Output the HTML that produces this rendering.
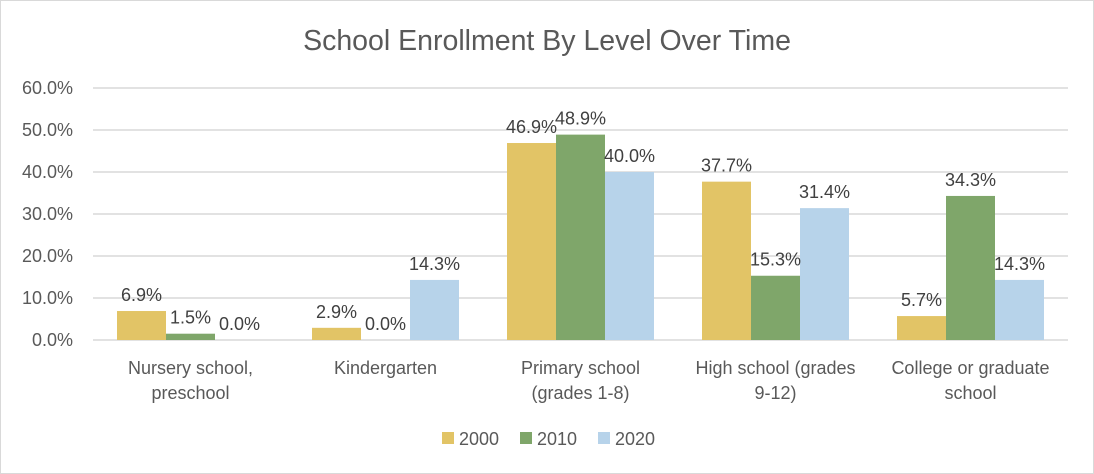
<!DOCTYPE html>
<html><head><meta charset="utf-8"><style>
body{margin:0;background:#fff;}
svg{display:block;font-family:"Liberation Sans",Arial,sans-serif;}
</style></head><body>
<svg id="chart" width="1094" height="474">
<rect x="0.5" y="0.5" width="1093" height="473" fill="#fff" stroke="#d9d9d9"/>
<text x="547" y="50" text-anchor="middle" font-size="28.5" fill="#595959">School Enrollment By Level Over Time</text>
<g id="grid"></g><g id="bars"></g><g id="labels"></g>
<g>
<rect x="442" y="432" width="12" height="12" fill="#E2C466"/>
<text x="459" y="445" font-size="18" fill="#595959">2000</text>
<rect x="520" y="432" width="12" height="12" fill="#7FA66A"/>
<text x="537" y="445" font-size="18" fill="#595959">2010</text>
<rect x="598" y="432" width="12" height="12" fill="#B7D3EA"/>
<text x="615" y="445" font-size="18" fill="#595959">2020</text>
</g>
</svg>
<script>
const categories=[["Nursery school,","preschool"],["Kindergarten"],["Primary school","(grades 1-8)"],["High school (grades","9-12)"],["College or graduate","school"]];
const s2000=[6.9,2.9,46.9,37.7,5.7];
const s2010=[1.5,0.0,48.9,15.3,34.3];
const s2020=[0.0,14.3,40.0,31.4,14.3];
const ticks=[0,10,20,30,40,50,60];
const series=[s2000,s2010,s2020];
const seriesNames=["2000","2010","2020"];
const colors=["#E2C466","#7FA66A","#B7D3EA"];
const NS="http://www.w3.org/2000/svg";
const x0=93,x1=1068,y0=340,yTop=88;
const y=v=>y0-(v/60)*(y0-yTop);
const bw=(x1-x0)/categories.length;
const cx=i=>x0+bw*(i+0.5);
const barW=49;
function mk(tag,attrs,parent,txt){const e=document.createElementNS(NS,tag);for(const k in attrs)e.setAttribute(k,attrs[k]);if(txt!==undefined)e.textContent=txt;parent.appendChild(e);return e;}
const grid=document.getElementById('grid'),bars=document.getElementById('bars'),labels=document.getElementById('labels');
ticks.forEach(t=>{
 const l=mk('line',{x1:x0,x2:x1,y1:y(t),y2:y(t),stroke:'#d9d9d9','stroke-width':1.5},grid);
 
 
 const tx=mk('text',{x:73,y:y(t)+6,'text-anchor':'end','font-size':18,fill:'#595959'},grid,t.toFixed(1)+'%');
 
 
});
categories.forEach((c,i)=>{
 series.forEach((s,j)=>{
  const bx=cx(i)-barW*1.5+barW*j;
  const r=mk('rect',{x:bx,y:y(s[i]),width:barW,height:y0-y(s[i]),fill:colors[j]},bars);
  
  
  const t=mk('text',{x:bx+barW/2,y:y(s[i])-10,'text-anchor':'middle','font-size':18,fill:'#404040'},labels,s[i].toFixed(1)+'%');
  
  
 });
 c.forEach((line,k)=>{
  const t=mk('text',{x:cx(i),y:374+k*25,'text-anchor':'middle','font-size':18,fill:'#595959'},labels,line);
  
  
 });
});
</script>
</body></html>
